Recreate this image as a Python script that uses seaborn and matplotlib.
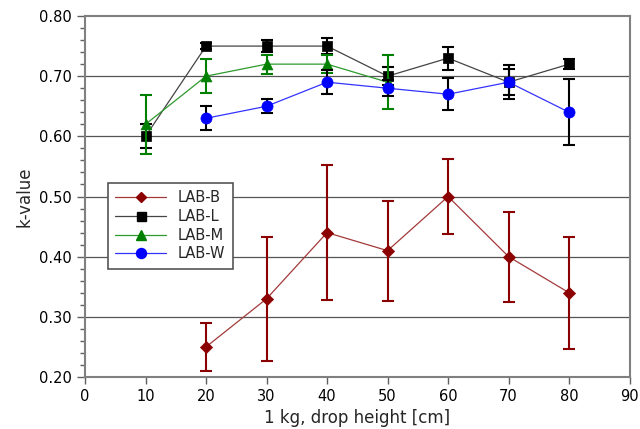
import matplotlib
matplotlib.use("Agg")
import matplotlib.pyplot as plt
import seaborn as sns
import pandas as pd
from matplotlib.ticker import MultipleLocator, FormatStrFormatter

# ---- data ----
x_B = [20, 30, 40, 50, 60, 70, 80]
B = [0.25, 0.33, 0.44, 0.41, 0.50, 0.40, 0.34]
B_err = [0.04, 0.103, 0.112, 0.083, 0.062, 0.075, 0.093]

x_L = [10, 20, 30, 40, 50, 60, 70, 80]
L = [0.60, 0.75, 0.75, 0.75, 0.70, 0.73, 0.69, 0.72]
L_err = [0.02, 0.005, 0.01, 0.013, 0.015, 0.019, 0.028, 0.008]

x_M = [10, 20, 30, 40, 50]
M = [0.62, 0.70, 0.72, 0.72, 0.69]
M_err = [0.049, 0.028, 0.016, 0.015, 0.045]

x_W = [20, 30, 40, 50, 60, 70, 80]
W = [0.63, 0.65, 0.69, 0.68, 0.67, 0.69, 0.64]
W_err = [0.02, 0.012, 0.02, 0.013, 0.027, 0.022, 0.055]

series_names = ["LAB-B", "LAB-L", "LAB-M", "LAB-W"]

sns.set_style("white")
plt.rcParams['font.family'] = ['DejaVu Sans']

fig = plt.figure(figsize=(6.4, 4.29), dpi=100)
ax = fig.add_axes([0.1328, 0.1212, 0.851, 0.8415])

specs = [
    ("LAB-B", x_B, B, B_err, "#8b0000", "#a33a3a", "D", 6.2, "#8b0000"),
    ("LAB-L", x_L, L, L_err, "black", "#444444", "s", 7.2, "black"),
    ("LAB-M", x_M, M, M_err, "#008000", "#2e9a2e", "^", 7.8, "#008000"),
    ("LAB-W", x_W, W, W_err, "#0000ff", "#3333ff", "o", 8.0, "black"),
]

handles = []
for z, (name, xs, ys, es, mc, lc, mk, ms, ec) in enumerate(specs):
    df = pd.DataFrame({"x": xs, "y": ys})
    ax.errorbar(xs, ys, yerr=es, fmt="none", ecolor=ec, elinewidth=1.5,
                capsize=4.5, capthick=1.5, zorder=3 + z)
    sns.lineplot(data=df, x="x", y="y", ax=ax, color=lc, linewidth=0.9,
                 zorder=3 + z, legend=False)
    sns.scatterplot(data=df, x="x", y="y", ax=ax, color=mc, marker=mk,
                    s=ms ** 2, edgecolor=mc, linewidth=0.5, zorder=3.5 + z,
                    legend=False)
    h, = ax.plot([], [], color=lc, linewidth=0.9, marker=mk, markersize=ms * 0.9,
                 markerfacecolor=mc, markeredgecolor=mc)
    handles.append(h)

ax.set_xlim(0, 90)
ax.set_ylim(0.20, 0.80)
ax.xaxis.set_major_locator(MultipleLocator(10))
ax.yaxis.set_major_locator(MultipleLocator(0.1))
ax.yaxis.set_minor_locator(MultipleLocator(0.02))
ax.yaxis.set_major_formatter(FormatStrFormatter("%.2f"))

for y in [0.3, 0.4, 0.5, 0.6, 0.7]:
    ax.axhline(y, color="#555555", linewidth=0.9, zorder=1)

for s in ax.spines.values():
    s.set_color("#808080")
    s.set_linewidth(1.5)
    s.set_visible(True)

ax.tick_params(axis="both", which="major", direction="out", length=6, width=1,
               color="#606060", labelsize=10.5, labelcolor="black",
               left=True, bottom=True)
ax.tick_params(axis="y", which="minor", direction="out", length=3.5, width=1,
               color="#606060", left=True)
ax.tick_params(axis="x", which="major", length=5)

ax.set_xlabel("1 kg, drop height [cm]", fontsize=12)
ax.set_ylabel("k-value", fontsize=12)

leg = ax.legend(handles, series_names, loc="upper left",
                bbox_to_anchor=(0.042, 0.537), fontsize=10.5, frameon=True,
                fancybox=False, edgecolor="#555555", framealpha=1,
                borderpad=0.5, labelspacing=0.25, handlelength=3.5,
                handletextpad=0.8, borderaxespad=0)
leg.get_frame().set_linewidth(1.2)

fig.savefig("out.png", dpi=100)
